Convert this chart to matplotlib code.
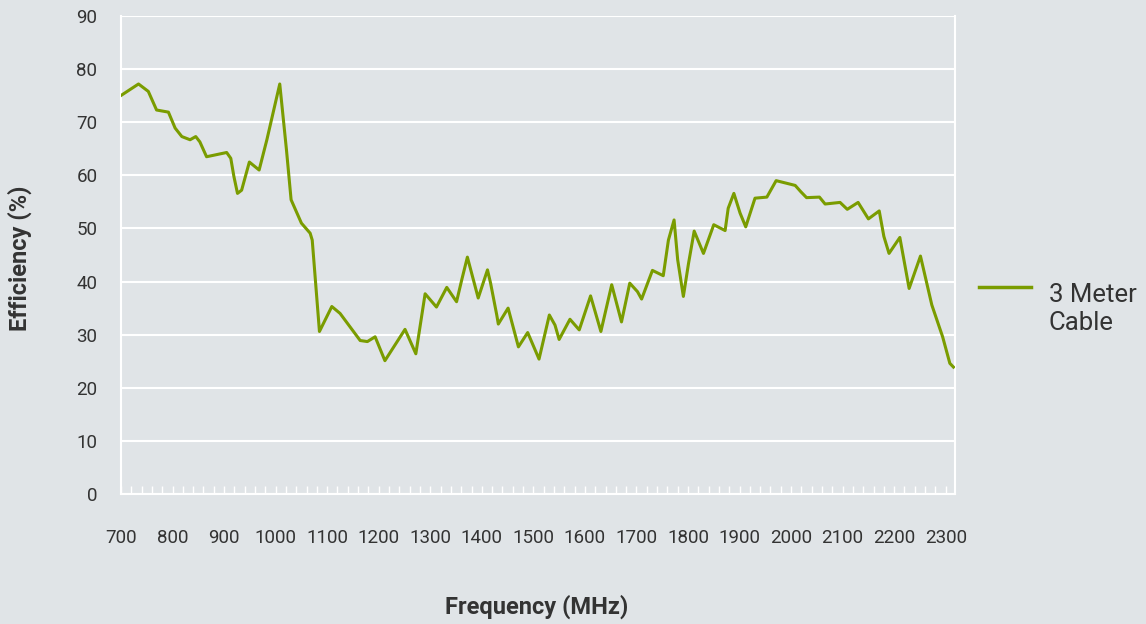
import matplotlib
matplotlib.use("Agg")
import matplotlib.pyplot as plt
from matplotlib.lines import Line2D

plt.rcParams['font.family'] = ['Roboto', 'DejaVu Sans']

freq_mhz = [701, 734, 753, 769, 792, 805, 818, 834, 845, 853, 866, 905, 913, 919, 926, 934,
            949, 968, 983, 1008, 1021, 1030, 1050, 1067, 1071, 1085,
            1109, 1125, 1164, 1178, 1193, 1212, 1251, 1272, 1290, 1312, 1332, 1351, 1361, 1372,
            1393, 1411, 1417, 1429, 1432, 1451, 1471, 1489, 1511, 1531, 1542, 1550, 1571, 1589,
            1611, 1631, 1652, 1671, 1687, 1702, 1710, 1731, 1752, 1762, 1773, 1780, 1791, 1801,
            1812, 1830, 1850, 1872, 1878, 1889, 1901, 1912, 1930, 1953, 1971, 2008, 2019, 2030,
            2055, 2066, 2095, 2109, 2130, 2150, 2171, 2180, 2190, 2211, 2229, 2251, 2273, 2294,
            2308, 2315]
efficiency = [75.1, 77.2, 75.8, 72.3, 71.9, 68.9, 67.3, 66.7, 67.3, 66.3, 63.5, 64.3, 63.2, 59.8, 56.6, 57.2,
              62.5, 61.0, 66.7, 77.2, 64.8, 55.4, 51.0, 49.1, 47.8, 30.6,
              35.3, 34.0, 28.9, 28.7, 29.6, 25.1, 31.0, 26.4, 37.7, 35.2, 38.9, 36.2, 40.3, 44.6,
              36.9, 42.2, 39.7, 33.7, 32.0, 35.0, 27.7, 30.4, 25.4, 33.7, 31.8, 29.1, 32.9, 30.9,
              37.3, 30.6, 39.4, 32.4, 39.7, 38.1, 36.7, 42.1, 41.1, 47.8, 51.6, 44.1, 37.2, 43.4,
              49.5, 45.3, 50.7, 49.6, 53.8, 56.6, 52.9, 50.3, 55.7, 55.9, 59.0, 58.1, 56.9, 55.8,
              55.9, 54.6, 54.9, 53.6, 54.9, 51.8, 53.3, 48.5, 45.3, 48.3, 38.7, 44.8, 35.6, 29.6,
              24.6, 23.9]
series_label = "3 Meter\nCable"
x_ticks = list(range(700, 2301, 100))
x_minor = list(range(720, 2301, 20))
y_ticks = list(range(0, 91, 10))

bg = '#e0e4e7'
green = '#7a9c00'
txt = '#333333'

fig = plt.figure(figsize=(11.46, 6.24), dpi=100, facecolor=bg)
ax = fig.add_axes([121/1146, 1 - 494/624, (955-121)/1146, (494-16)/624])
ax.set_facecolor(bg)

ax.plot(freq_mhz, efficiency, color=green, lw=2.2, solid_joinstyle='round', zorder=3)

ax.set_xlim(700, 2318)
ax.set_ylim(0, 90)
ax.set_xticks(x_ticks)
ax.set_xticks(x_minor, minor=True)
ax.set_yticks(y_ticks)
ax.yaxis.grid(True, color='white', lw=1.5)
ax.set_axisbelow(True)

for s in ['left', 'bottom', 'right']:
    ax.spines[s].set_color('white')
    ax.spines[s].set_linewidth(1.5)
ax.spines['top'].set_visible(False)

ax.tick_params(axis='x', which='both', direction='in', length=6, width=1, color='white',
               labelsize=13.5, labelcolor=txt, pad=25)
ax.tick_params(axis='y', length=0, labelsize=13.5, labelcolor=txt, pad=17)

fig.text(20/1146, 1 - 258/624, "Efficiency (%)", rotation=90, ha='center', va='center',
         fontsize=17, fontweight='bold', color=txt)
fig.text(537/1146, 1 - 607/624, "Frequency (MHz)", ha='center', va='center',
         fontsize=17, fontweight='bold', color=txt)

fig.add_artist(Line2D([979/1146, 1031/1146], [1 - 287/624, 1 - 287/624], color=green, lw=2.5,
                      transform=fig.transFigure))
fig.text(1049/1146, 1 - 309/624, series_label, ha='left', va='center', fontsize=18.5,
         color=txt, linespacing=1.25)

fig.savefig('out.png', dpi=100, facecolor=bg)
